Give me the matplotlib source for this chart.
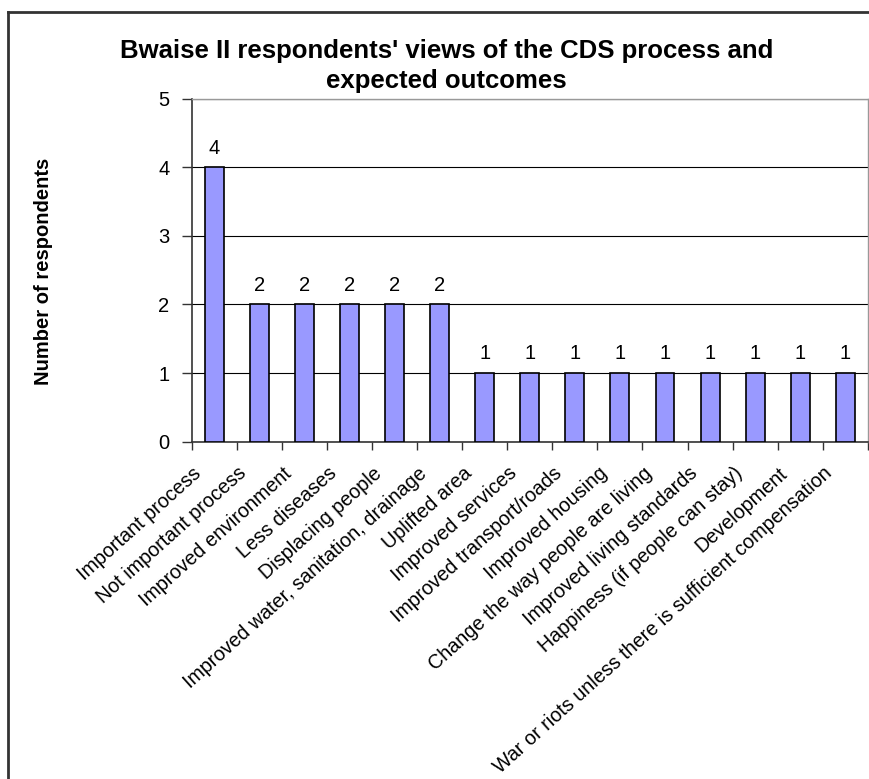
import matplotlib.pyplot as plt
from matplotlib.lines import Line2D
from matplotlib.transforms import ScaledTranslation
import numpy as np

plt.rcParams['font.family'] = ['Liberation Sans', 'DejaVu Sans']

categories = [
    "Important process",
    "Not important process",
    "Improved environment",
    "Less diseases",
    "Displacing people",
    "Improved water, sanitation, drainage",
    "Uplifted area",
    "Improved services",
    "Improved transport/roads",
    "Improved housing",
    "Change the way people are living",
    "Improved living standards",
    "Happiness (if people can stay)",
    "Development",
    "War or riots unless there is sufficient compensation",
]
respondents = [4, 2, 2, 2, 2, 2, 1, 1, 1, 1, 1, 1, 1, 1, 1]
title_lines = ["Bwaise II respondents' views of the CDS process and",
               "expected outcomes"]

fig = plt.figure(figsize=(8.69, 7.79), dpi=100, facecolor='white')
ax = fig.add_axes([0.2204, 0.4330, 0.7784, 0.4403])

x = np.arange(len(categories))
ax.bar(x, respondents, width=0.42, color='#9999FF', edgecolor='black',
       linewidth=1.2, zorder=3)
for xi, v in zip(x, respondents):
    ax.text(xi, v + 0.14, str(v), ha='center', va='bottom', fontsize=14.5)

ax.set_xlim(-0.5, len(categories) - 0.5)
ax.set_ylim(0, 5)
ax.set_yticks(range(0, 6))
ax.tick_params(axis='y', labelsize=14.5, length=7, width=1, direction='out',
               color='#333333', pad=9)
ax.yaxis.grid(True, color='black', linewidth=0.8, zorder=0)

# category ticks sit between bars, labels under the bar centres
ax.set_xticks(np.arange(len(categories) + 1) - 0.5)
ax.set_xticklabels([])
ax.tick_params(axis='x', length=6, width=1, color='#333333')
ax.set_xticks(x, minor=True)
ax.set_xticklabels(categories, minor=True, rotation=42, ha='right',
                   rotation_mode='anchor', fontsize=14.2)
ax.tick_params(axis='x', which='minor', length=0, pad=0)
shift = ScaledTranslation(-0.22, -0.22, fig.dpi_scale_trans)
for lab in ax.get_xticklabels(minor=True):
    lab.set_transform(lab.get_transform() + shift)

for side in ['left', 'bottom']:
    ax.spines[side].set_color('#333333')
    ax.spines[side].set_linewidth(1.2)
for side in ['top', 'right']:
    ax.spines[side].set_color('#999999')
    ax.spines[side].set_linewidth(1.0)

fig.text(0.050, 0.652, "Number of respondents", rotation=90, ha='center',
         va='center', fontsize=14.5, fontweight='bold')
# two-line title, one text per line
for line, ty in zip(title_lines, [0.9345, 0.8960]):
    fig.text(0.514, ty, line, ha='center', va='center', fontsize=18.5,
             fontweight='bold')

# chart frame
fig.add_artist(Line2D([0.0092, 0.0092], [0, 0.9846], color='#333333',
                      linewidth=2, transform=fig.transFigure))
fig.add_artist(Line2D([0.0092, 1.0], [0.9846, 0.9846], color='#333333',
                      linewidth=2, transform=fig.transFigure))

fig.savefig('out.png', dpi=100, facecolor='white')
